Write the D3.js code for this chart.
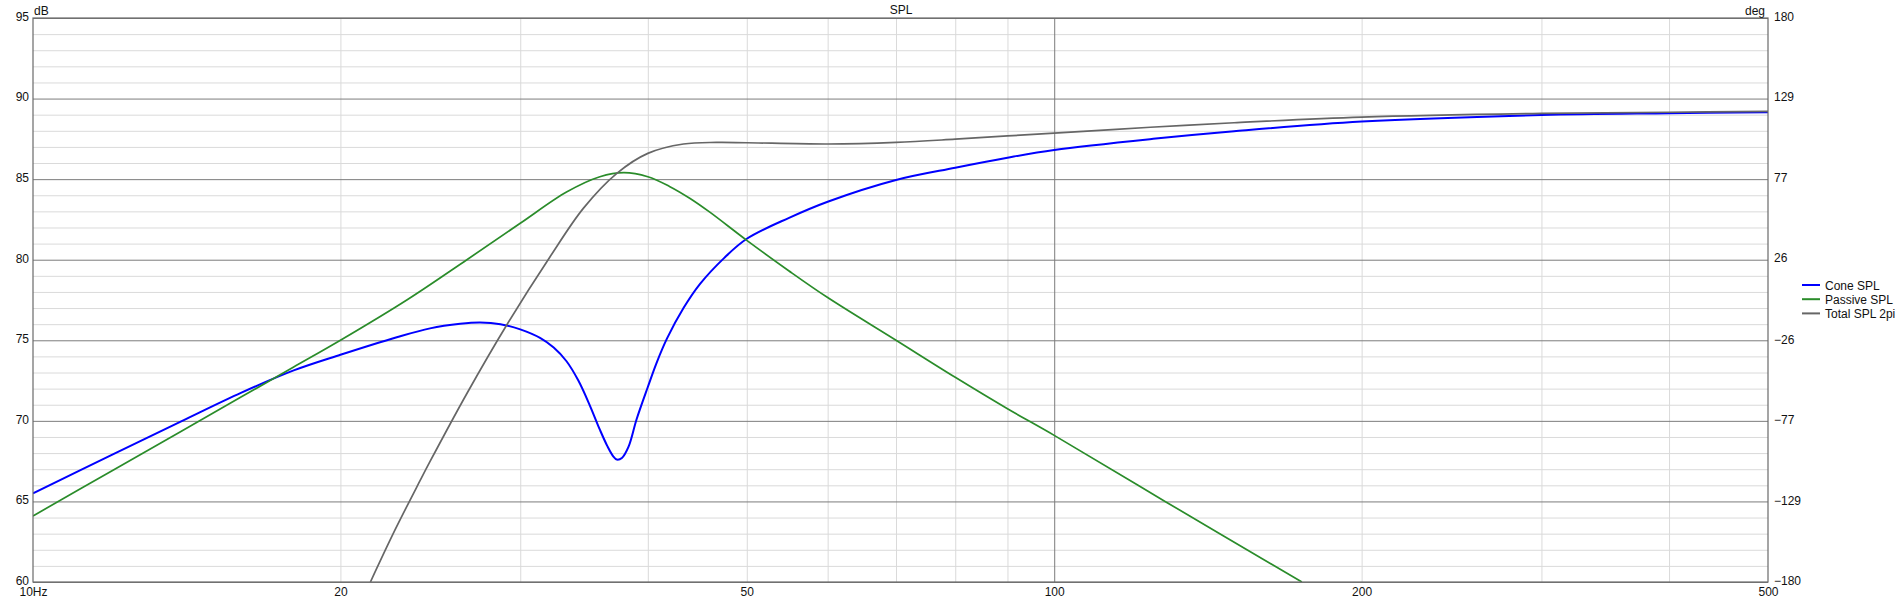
<!DOCTYPE html>
<html>
<head>
<meta charset="utf-8">
<script src="https://cdn.jsdelivr.net/npm/d3@7"></script>
<style>
  html, body { margin: 0; padding: 0; background: #ffffff; }
  svg { display: block; }
  text { font-family: "Liberation Sans", Arial, sans-serif; font-size: 12px; fill: #111; }
</style>
</head>
<body>
<svg id="chart" width="1899" height="600"></svg>
<script>
// ---------------- data ----------------
const coneFreq = [10, 12, 14, 16, 18, 20, 22.71, 24.48, 26.2, 27.4, 28.69, 30, 31.37, 32.35, 33.3, 34.2, 35.1, 35.9, 36.5, 37.0, 37.3, 37.73, 38.3, 39.0, 40, 40.8, 41.76, 43.35, 45, 47.5, 50, 55, 60, 70, 80, 90, 100, 125, 150, 200, 300, 400, 500];
const coneSPL  = [65.5, 67.95, 70.0, 71.75, 73.13, 74.1, 75.19, 75.74, 76.02, 76.1, 76.0, 75.68, 75.15, 74.55, 73.7, 72.5, 70.95, 69.45, 68.45, 67.8, 67.6, 67.7, 68.4, 70.1, 72.1, 73.6, 75.1, 77.0, 78.5, 80.1, 81.3, 82.6, 83.6, 84.95, 85.71, 86.33, 86.81, 87.5, 87.97, 88.57, 88.98, 89.09, 89.15];

const passiveFreq = [10, 12, 14, 16, 18, 20, 23.23, 26.6, 30, 33.3, 35.9, 37.9, 40, 42, 44, 46, 50, 55, 60, 70, 80, 90, 100, 128.4, 174.8];
const passiveSPL  = [64.1, 66.97, 69.39, 71.49, 73.34, 75.0, 77.5, 80.0, 82.26, 84.2, 85.15, 85.4, 85.15, 84.55, 83.8, 82.95, 81.2, 79.3, 77.65, 75.0, 72.7, 70.75, 69.1, 65.0, 60.0];

const totalFreq = [21.4, 22.62, 23.94, 24.48, 26.6, 29.1, 32.1, 34.6, 37.3, 40, 43.35, 46.7, 50, 60, 70, 80, 90, 100, 124.2, 150, 200, 300, 400, 500];
const totalSPL  = [60.0, 63.23, 66.3, 67.48, 71.7, 75.95, 80.2, 83.2, 85.36, 86.6, 87.18, 87.28, 87.26, 87.18, 87.28, 87.48, 87.68, 87.85, 88.22, 88.5, 88.85, 89.08, 89.15, 89.21];

const seriesNames = ["Cone SPL", "Passive SPL", "Total SPL 2pi"];
const seriesColors = ["#0000ff", "#2a8c2a", "#666666"];

const xTickValues = [10, 20, 50, 100, 200, 500];
const xTickLabels = ["10Hz", "20", "50", "100", "200", "500"];
const xMinorGrid = [20, 30, 40, 50, 60, 70, 80, 90, 200, 300, 400];
const xMajorGrid = [100];

const yTickValues = [60, 65, 70, 75, 80, 85, 90, 95];
const yMinorGrid = d3.range(61, 95).filter(v => v % 5 !== 0);
const phaseTickValues = [-180, -129, -77, -26, 26, 77, 129, 180];

// ---------------- layout ----------------
const L = 33, R = 1768, T = 18, B = 582;
const svg = d3.select("#chart");

const x = d3.scaleLog().domain([10, 500]).range([L, R]);
const y = d3.scaleLinear().domain([60, 95]).range([B, T]);
const yPhase = d3.scaleLinear().domain([-180, 180]).range([B, T]);

// minor horizontal grid
svg.append("g")
  .attr("transform", `translate(${L},0)`)
  .call(d3.axisLeft(y).tickValues(yMinorGrid).tickSize(-(R - L)).tickFormat(""))
  .call(g => g.select(".domain").remove())
  .call(g => g.selectAll("line").attr("stroke", "#dadada").attr("stroke-width", 1));

// minor vertical grid
svg.append("g")
  .attr("transform", `translate(0,${B})`)
  .call(d3.axisBottom(x).tickValues(xMinorGrid).tickSize(-(B - T)).tickFormat(""))
  .call(g => g.select(".domain").remove())
  .call(g => g.selectAll("line").attr("stroke", "#dadada").attr("stroke-width", 1));

// major horizontal grid
svg.append("g")
  .attr("transform", `translate(${L},0)`)
  .call(d3.axisLeft(y).tickValues(yTickValues).tickSize(-(R - L)).tickFormat(""))
  .call(g => g.select(".domain").remove())
  .call(g => g.selectAll("line").attr("stroke", "#7c7c7c").attr("stroke-width", 1));

// major vertical grid
svg.append("g")
  .attr("transform", `translate(0,${B})`)
  .call(d3.axisBottom(x).tickValues(xMajorGrid).tickSize(-(B - T)).tickFormat(""))
  .call(g => g.select(".domain").remove())
  .call(g => g.selectAll("line").attr("stroke", "#7c7c7c").attr("stroke-width", 1));

// clip
svg.append("defs").append("clipPath").attr("id", "plotclip")
  .append("rect").attr("x", L).attr("y", T).attr("width", R - L).attr("height", B - T);

const line = d3.line()
  .x(d => x(d[0]))
  .y(d => y(d[1]))
  .curve(d3.curveCatmullRom.alpha(0.5));

const seriesData = [
  d3.zip(coneFreq, coneSPL),
  d3.zip(passiveFreq, passiveSPL),
  d3.zip(totalFreq, totalSPL)
];
const widths = [2, 1.7, 1.7];

const curves = svg.append("g").attr("clip-path", "url(#plotclip)");
seriesData.forEach((data, i) => {
  curves.append("path")
    .datum(data)
    .attr("fill", "none")
    .attr("stroke", seriesColors[i])
    .attr("stroke-width", widths[i])
    .attr("stroke-linejoin", "round")
    .attr("d", line);
});

// frame
svg.append("rect")
  .attr("x", L).attr("y", T).attr("width", R - L).attr("height", B - T)
  .attr("fill", "none").attr("stroke", "#6a6a6a").attr("stroke-width", 1.2);

// left labels
svg.append("g")
  .attr("transform", `translate(${L},0)`)
  .call(d3.axisLeft(y).tickValues(yTickValues).tickSize(0).tickPadding(4).tickFormat(d3.format("d")))
  .call(g => g.select(".domain").remove())
  .call(g => g.selectAll("text").style("font-family", "Liberation Sans, Arial, sans-serif").style("font-size", "12px").attr("fill", "#111").attr("dy", "0.2em"));

// right labels
svg.append("g")
  .attr("transform", `translate(${R},0)`)
  .call(d3.axisRight(yPhase).tickValues(phaseTickValues).tickSize(0).tickPadding(6).tickFormat(d3.format("d")))
  .call(g => g.select(".domain").remove())
  .call(g => g.selectAll("text").style("font-family", "Liberation Sans, Arial, sans-serif").style("font-size", "12px").attr("fill", "#111").attr("dy", "0.2em"));

// bottom labels
svg.append("g")
  .attr("transform", `translate(0,${B})`)
  .call(d3.axisBottom(x).tickValues(xTickValues).tickSize(0).tickPadding(5)
    .tickFormat((d, i) => xTickLabels[i]))
  .call(g => g.select(".domain").remove())
  .call(g => g.selectAll("text").style("font-family", "Liberation Sans, Arial, sans-serif").style("font-size", "12px").attr("fill", "#111"));

// unit labels and title
svg.append("text").attr("x", L + 1).attr("y", 15).text("dB");
svg.append("text").attr("x", R - 3).attr("y", 15).attr("text-anchor", "end").text("deg");
svg.append("text").attr("x", 901).attr("y", 14).attr("text-anchor", "middle").text("SPL");

// legend
const legend = svg.append("g");
seriesNames.forEach((name, i) => {
  const ly = 285 + i * 14.2;
  legend.append("line")
    .attr("x1", 1802).attr("x2", 1820).attr("y1", ly).attr("y2", ly)
    .attr("stroke", seriesColors[i]).attr("stroke-width", 2);
  legend.append("text").attr("x", 1825).attr("y", ly + 4.5).text(name);
});
</script>
</body>
</html>
